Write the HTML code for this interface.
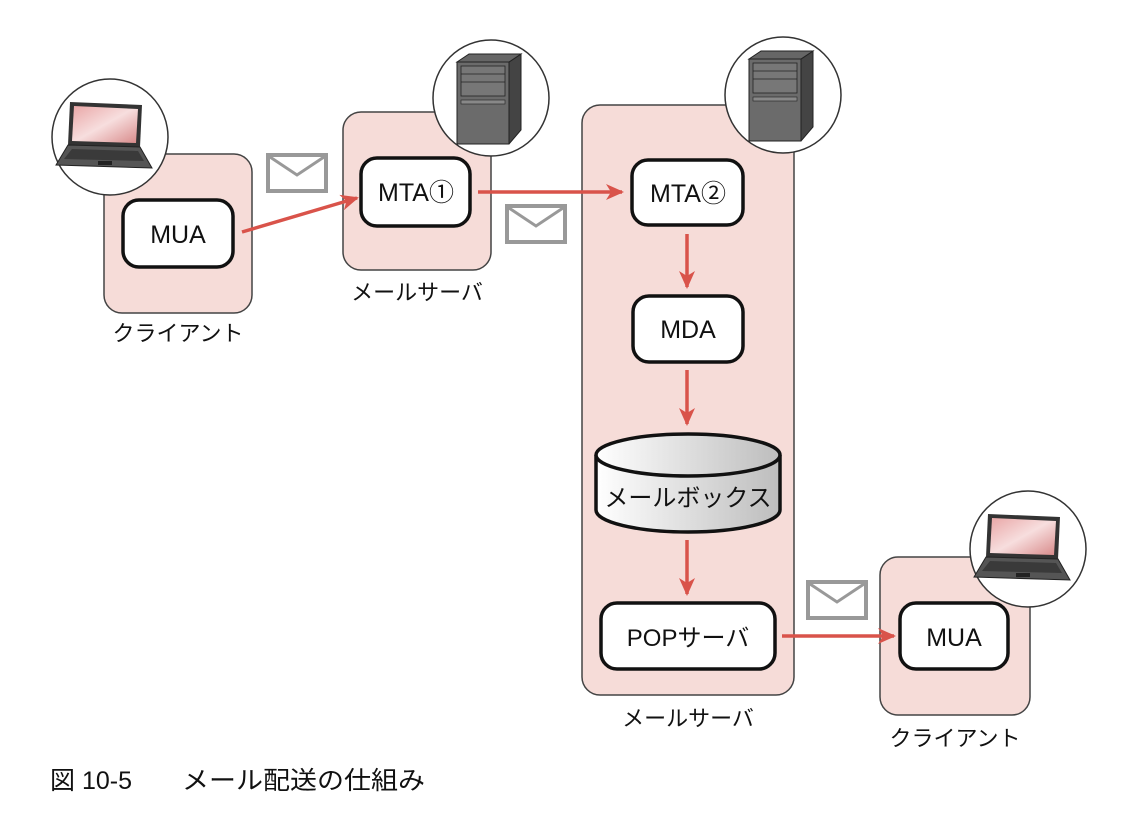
<!DOCTYPE html>
<html><head><meta charset="utf-8"><style>
body{margin:0;background:#fff}
svg text{font-family:"Liberation Sans","Noto Sans CJK JP",sans-serif;fill:#111}
</style></head><body>
<svg width="1126" height="818" viewBox="0 0 1126 818" xmlns="http://www.w3.org/2000/svg">
<defs>
<marker id="ah2" markerWidth="18" markerHeight="16" refX="16" refY="8" orient="auto" markerUnits="userSpaceOnUse">
<path d="M0,0 L18,8 L0,16 L5,8 Z" fill="#d9534a"/></marker>
<linearGradient id="cyl" x1="0" x2="1" y1="0" y2="0"><stop offset="0" stop-color="#fff"/><stop offset="1" stop-color="#bdbdbd"/></linearGradient>
<linearGradient id="scr" x1="0" y1="0" x2="1" y2="1"><stop offset="0" stop-color="#e9a6a6"/><stop offset="0.5" stop-color="#f7dede"/><stop offset="1" stop-color="#d88a8a"/></linearGradient>
<g id="laptop">
<path d="M-38,-33 L34,-30 L32,12 L-40,10 Z" fill="#333"/>
<path d="M-34,-29 L30,-26 L28,8 L-36,6 Z" fill="url(#scr)"/>
<path d="M-40,10 L32,12 L44,33 L-52,30 Z" fill="#555" stroke="#222" stroke-width="1"/>
<path d="M-36,14 L30,16 L36,26 L-44,24 Z" fill="#3a3a3a"/>
<rect x="-10" y="26" width="14" height="4" fill="#222"/>
</g>
<g id="server">
<path d="M-30,-38 L22,-38 L34,-46 L34,30 L22,44 L-30,44 Z" fill="#444" stroke="#222"/>
<path d="M-30,-38 L-18,-46 L34,-46 L22,-38 Z" fill="#666" stroke="#222"/>
<rect x="-30" y="-38" width="52" height="82" fill="#6b6b6b" stroke="#222"/>
<rect x="-26" y="-34" width="44" height="30" fill="#777" stroke="#222" stroke-width="0.8"/>
<line x1="-26" y1="-26" x2="18" y2="-26" stroke="#222" stroke-width="0.8"/>
<line x1="-26" y1="-18" x2="18" y2="-18" stroke="#222" stroke-width="0.8"/>
<rect x="-26" y="0" width="44" height="4" fill="#888" stroke="#222" stroke-width="0.6"/>
</g>
<g id="env"><rect x="0" y="0" width="58" height="36" fill="#fff" stroke="#999" stroke-width="4"/><path d="M2,2 L29,20 L56,2" fill="none" stroke="#999" stroke-width="3"/></g>
</defs>
<g stroke="#444" stroke-width="1.5" fill="#f6dcd8">
<rect x="104" y="154" width="148" height="159" rx="18"/>
<rect x="343" y="112" width="148" height="158" rx="18"/>
<rect x="582" y="105" width="212" height="590" rx="18"/>
<rect x="880" y="557" width="150" height="158" rx="18"/>
</g>
<g stroke="#111" stroke-width="3.5" fill="#fff">
<rect x="123" y="200" width="110" height="67" rx="16"/>
<rect x="361" y="158" width="109" height="68" rx="16"/>
<rect x="632" y="160" width="111" height="65" rx="16"/>
<rect x="633" y="296" width="110" height="66" rx="16"/>
<rect x="601" y="603" width="174" height="66" rx="16"/>
<rect x="900" y="603" width="108" height="66" rx="16"/>
</g>
<path d="M596,455 L596,510 A92,22 0 0 0 780,510 L780,455" fill="url(#cyl)" stroke="#111" stroke-width="3.5"/>
<ellipse cx="688" cy="455" rx="92" ry="21" fill="url(#cyl)" stroke="#111" stroke-width="3.5"/>
<g fill="#fff" stroke="#333" stroke-width="1.5">
<circle cx="110" cy="137" r="58"/><circle cx="491" cy="98" r="58"/><circle cx="783" cy="95" r="58"/><circle cx="1028" cy="549" r="58"/>
</g>
<use href="#laptop" x="108" y="135"/><use href="#laptop" x="1026" y="547"/>
<use href="#server" x="487" y="100"/><use href="#server" x="779" y="97"/>
<use href="#env" x="268" y="155"/><use href="#env" x="507" y="206"/><use href="#env" x="808" y="582"/>
<g stroke="#d9534a" stroke-width="3.5" fill="none" marker-end="url(#ah2)">
<line x1="242" y1="232" x2="357" y2="198"/>
<line x1="478" y1="192" x2="622" y2="192"/>
<line x1="687" y1="234" x2="687" y2="287"/>
<line x1="687" y1="370" x2="687" y2="424"/>
<line x1="687" y1="540" x2="687" y2="594"/>
<line x1="782" y1="636" x2="894" y2="636"/>
</g>
<g font-size="25" text-anchor="middle">
<text x="178" y="243">MUA</text>
<text x="416" y="201">MTA①</text>
<text x="688" y="202">MTA②</text>
<text x="688" y="338">MDA</text>
<text x="688" y="506" font-size="24">メールボックス</text>
<text x="688" y="646" font-size="24">POPサーバ</text>
<text x="954" y="646">MUA</text>
</g>
<g font-size="22" text-anchor="middle">
<text x="178" y="341">クライアント</text>
<text x="417" y="300">メールサーバ</text>
<text x="688" y="726">メールサーバ</text>
<text x="955" y="746">クライアント</text>
</g>
<text x="50" y="789" font-size="25">図 10-5</text>
<text x="182" y="789" font-size="25" textLength="243" lengthAdjust="spacingAndGlyphs">メール配送の仕組み</text>
</svg>
</body></html>
